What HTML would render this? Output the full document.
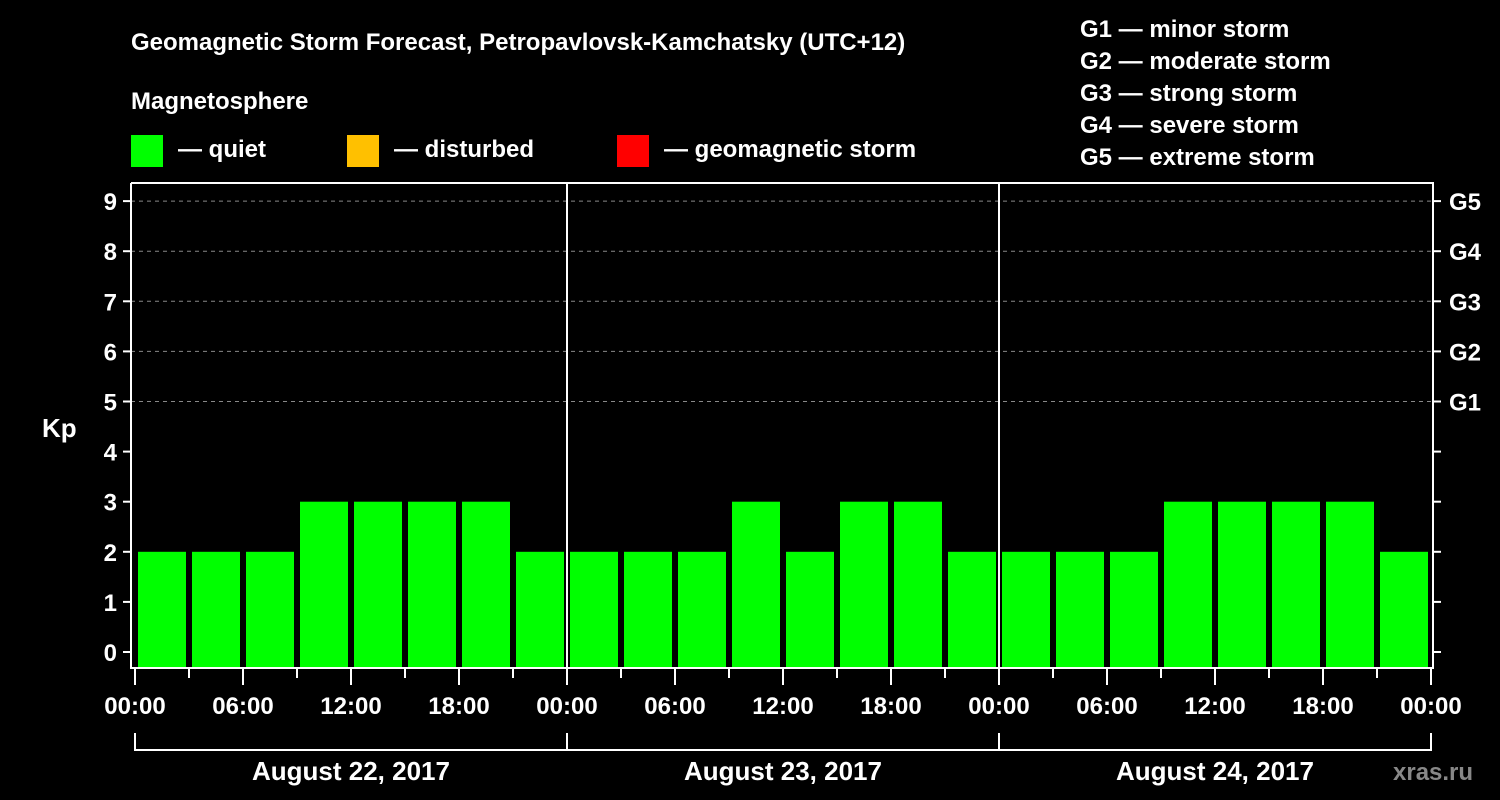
<!DOCTYPE html>
<html><head><meta charset="utf-8"><style>
html,body{margin:0;padding:0;background:#000;width:1500px;height:800px;overflow:hidden}
svg{display:block;font-family:"Liberation Sans",sans-serif;font-weight:bold}
</style></head><body>
<svg id="c" width="1500" height="800">
<text x="131" y="50" fill="#fff" font-size="24">Geomagnetic Storm Forecast, Petropavlovsk-Kamchatsky (UTC+12)</text>
<text x="131" y="109" fill="#fff" font-size="24">Magnetosphere</text>
<rect x="131" y="135" width="32" height="32" fill="#00ff00"/>
<text x="178" y="157" fill="#fff" font-size="24">— quiet</text>
<rect x="347" y="135" width="32" height="32" fill="#ffc000"/>
<text x="394" y="157" fill="#fff" font-size="24">— disturbed</text>
<rect x="617" y="135" width="32" height="32" fill="#ff0000"/>
<text x="664" y="157" fill="#fff" font-size="24">— geomagnetic storm</text>
<g fill="#fff" font-size="24">
<text x="1080" y="37">G1 — minor storm</text>
<text x="1080" y="69">G2 — moderate storm</text>
<text x="1080" y="101">G3 — strong storm</text>
<text x="1080" y="133">G4 — severe storm</text>
<text x="1080" y="165">G5 — extreme storm</text>
</g>
<text x="42" y="437" fill="#fff" font-size="26">Kp</text>
<text x="1393" y="780" fill="#888" font-size="24">xras.ru</text>
<g id="g"></g>
</svg>
<script>
const kpValues=[2,2,2,3,3,3,3,2, 2,2,2,3,2,3,3,2, 2,2,2,3,3,3,3,2];
const dayLabels=["August 22, 2017","August 23, 2017","August 24, 2017"];
const yTicks=[0,1,2,3,4,5,6,7,8,9];
const gLabels=["G1","G2","G3","G4","G5"];
const hourLabels=["00:00","06:00","12:00","18:00"];
const NS="http://www.w3.org/2000/svg";
const g=document.getElementById('g');
const L=131,R=1433,T=183,B=668,x0=135,dayW=432;
const y=v=>652-v*50.1;
const x=h=>x0+h*dayW/24;
function mk(t,a,p){const e=document.createElementNS(NS,t);for(const k in a)e.setAttribute(k,a[k]);(p||g).appendChild(e);return e;}
function col(v){return v>=5?"#ff0000":v>=4?"#ffc000":"#00ff00";}
// grid
yTicks.forEach(v=>{
 if(v>=5){const l=mk('line',{x1:L,x2:R,y1:y(v),y2:y(v),stroke:'#888','stroke-dasharray':'4,4','stroke-width':1});
 
 }
 const t=mk('line',{x1:L-8,x2:L,y1:y(v),y2:y(v),stroke:'#fff','stroke-width':2});
 
 
 const tx=mk('text',{x:L-14,y:y(v)+9,fill:'#fff','font-size':24,'text-anchor':'end'});tx.textContent=v;
 
 
 const rt=mk('line',{x1:R,x2:R+8,y1:y(v),y2:y(v),stroke:'#fff','stroke-width':2});
 
 
});
gLabels.forEach((s,i)=>{const t=mk('text',{x:R+16,y:y(i+5)+9,fill:'#fff','font-size':24});t.textContent=s;
 
 });
// bars
kpValues.forEach((v,i)=>{
 const b=mk('rect',{x:x(i*3)+3,y:y(v),width:48,height:B-1-y(v),fill:col(v)});
 
 
});
// frame
const f=mk('path',{d:`M${L},${T}V${B}H${R}V${T}H${L}`,fill:'none',stroke:'#fff','stroke-width':2});


for(let d=1;d<3;d++){const l=mk('line',{x1:x(d*24),x2:x(d*24),y1:T,y2:B,stroke:'#fff','stroke-width':2});
 
 }
// x ticks
for(let h=0;h<=72;h+=3){const major=h%6===0;
 const t=mk('line',{x1:x(h),x2:x(h),y1:B,y2:B+(major?17:10),stroke:'#fff','stroke-width':2});
 
 
 if(major){const tx=mk('text',{x:x(h),y:714,fill:'#fff','font-size':24,'text-anchor':'middle'});
 tx.textContent=hourLabels[(h/6)%4];
 
 }}
// day brackets
const br=mk('path',{d:`M${x(0)},733V750H${x(72)}V733M${x(24)},733V750M${x(48)},733V750`,fill:'none',stroke:'#fff','stroke-width':2});


dayLabels.forEach((s,i)=>{const t=mk('text',{x:x(i*24+12),y:780,fill:'#fff','font-size':26,'text-anchor':'middle'});t.textContent=s;
 
 });
</script>
</body></html>
